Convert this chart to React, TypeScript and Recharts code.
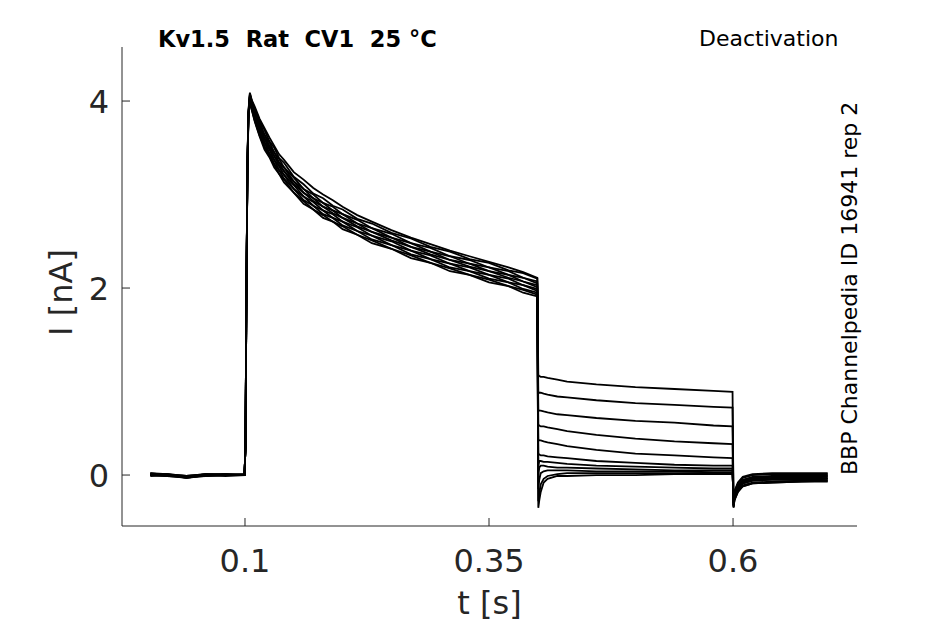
import { LineChart, Line, XAxis, YAxis, Label } from "recharts"

// sample times [s], shared by every sweep
const TIME = [
  0.003, 0.02, 0.04, 0.06, 0.08, 0.0995,
  0.1005, 0.1015, 0.1025, 0.1035, 0.105, 0.107, 0.11, 0.115, 0.12, 0.125, 0.13, 0.135, 0.14, 0.15,
  0.16, 0.17, 0.18, 0.19, 0.2, 0.215, 0.23, 0.25, 0.27, 0.29, 0.31, 0.33, 0.35, 0.37, 0.385, 0.3995,
  0.4005, 0.4015, 0.403, 0.406, 0.41, 0.42, 0.43, 0.46, 0.5, 0.54, 0.58, 0.5995,
  0.6005, 0.6015, 0.605, 0.61, 0.62, 0.64, 0.67, 0.697,
]

// current [nA] per sweep
const SWEEP_01 = [
  0.01, 0.0, -0.01, 0.01, 0.0, 0.0,
  0.3, 2.0, 3.32, 3.88, 4.08, 4.0, 3.92, 3.79, 3.69, 3.57, 3.5, 3.39, 3.34, 3.19,
  3.11, 3.01, 2.96, 2.88, 2.84, 2.74, 2.69, 2.59, 2.53, 2.44, 2.39, 2.31, 2.27, 2.19, 2.16, 2.1,
  1.07, 1.06, 1.05, 1.05, 1.04, 1.02, 1.0, 0.97, 0.94, 0.92, 0.9, 0.89,
  -0.3, -0.22, -0.12, -0.06, -0.03, -0.02, -0.01, 0.0,
]
const SWEEP_02 = [
  0.0, 0.01, -0.02, 0.0, 0.01, 0.0,
  0.3, 2.0, 3.31, 3.87, 4.07, 3.98, 3.89, 3.78, 3.64, 3.56, 3.45, 3.38, 3.29, 3.18,
  3.06, 3.0, 2.91, 2.87, 2.79, 2.73, 2.64, 2.58, 2.48, 2.43, 2.34, 2.3, 2.22, 2.18, 2.11, 2.07,
  0.89, 0.88, 0.88, 0.87, 0.86, 0.84, 0.83, 0.8, 0.77, 0.75, 0.73, 0.72,
  -0.32, -0.23, -0.14, -0.08, -0.05, -0.04, -0.04, -0.03,
]
const SWEEP_03 = [
  0.02, 0.0, -0.03, -0.01, 0.0, 0.01,
  0.3, 2.0, 3.3, 3.86, 4.06, 3.97, 3.88, 3.74, 3.64, 3.52, 3.45, 3.34, 3.29, 3.14,
  3.06, 2.96, 2.91, 2.83, 2.79, 2.69, 2.64, 2.54, 2.48, 2.39, 2.34, 2.26, 2.22, 2.14, 2.11, 2.05,
  0.7, 0.69, 0.69, 0.68, 0.67, 0.65, 0.64, 0.61, 0.58, 0.56, 0.53, 0.52,
  -0.33, -0.24, -0.15, -0.09, -0.06, -0.05, -0.05, -0.04,
]
const SWEEP_04 = [
  0.0, -0.01, -0.02, 0.01, 0.0, 0.0,
  0.3, 2.0, 3.3, 3.85, 4.05, 3.96, 3.86, 3.74, 3.6, 3.52, 3.41, 3.34, 3.25, 3.14,
  3.02, 2.96, 2.87, 2.83, 2.75, 2.69, 2.6, 2.54, 2.44, 2.39, 2.3, 2.26, 2.18, 2.14, 2.07, 2.03,
  0.54, 0.53, 0.52, 0.52, 0.51, 0.49, 0.47, 0.43, 0.39, 0.36, 0.34, 0.33,
  -0.34, -0.26, -0.17, -0.11, -0.08, -0.07, -0.06, -0.06,
]
const SWEEP_05 = [
  0.01, 0.01, -0.03, 0.0, -0.01, 0.0,
  0.3, 2.0, 3.3, 3.85, 4.05, 3.95, 3.86, 3.71, 3.6, 3.49, 3.41, 3.31, 3.25, 3.11,
  3.02, 2.93, 2.87, 2.8, 2.75, 2.66, 2.6, 2.51, 2.44, 2.36, 2.3, 2.23, 2.18, 2.11, 2.07, 2.01,
  0.38, 0.37, 0.37, 0.36, 0.35, 0.33, 0.31, 0.27, 0.23, 0.21, 0.19, 0.18,
  -0.34, -0.26, -0.18, -0.12, -0.09, -0.08, -0.07, -0.07,
]
const SWEEP_06 = [
  -0.01, 0.0, -0.02, 0.01, 0.01, 0.0,
  0.3, 2.0, 3.29, 3.84, 4.04, 3.94, 3.83, 3.7, 3.56, 3.48, 3.37, 3.3, 3.21, 3.1,
  2.98, 2.92, 2.83, 2.79, 2.71, 2.65, 2.56, 2.5, 2.4, 2.35, 2.26, 2.22, 2.14, 2.1, 2.03, 1.99,
  0.22, 0.22, 0.21, 0.21, 0.2, 0.19, 0.18, 0.15, 0.13, 0.11, 0.1, 0.1,
  -0.35, -0.27, -0.18, -0.12, -0.09, -0.08, -0.07, -0.06,
]
const SWEEP_07 = [
  0.0, 0.01, -0.01, 0.0, 0.0, 0.01,
  0.3, 2.0, 3.28, 3.83, 4.03, 3.93, 3.82, 3.67, 3.56, 3.44, 3.37, 3.26, 3.21, 3.06,
  2.98, 2.88, 2.83, 2.75, 2.71, 2.61, 2.56, 2.46, 2.4, 2.31, 2.26, 2.18, 2.14, 2.06, 2.03, 1.97,
  0.1, 0.15, 0.15, 0.14, 0.14, 0.13, 0.12, 0.1, 0.09, 0.08, 0.07, 0.07,
  -0.32, -0.24, -0.15, -0.09, -0.06, -0.05, -0.05, -0.04,
]
const SWEEP_08 = [
  0.01, -0.01, -0.03, 0.0, 0.01, 0.0,
  0.3, 2.0, 3.27, 3.82, 4.02, 3.92, 3.8, 3.66, 3.52, 3.44, 3.33, 3.26, 3.17, 3.06,
  2.94, 2.88, 2.79, 2.75, 2.67, 2.61, 2.52, 2.46, 2.36, 2.31, 2.22, 2.18, 2.1, 2.06, 1.99, 1.95,
  0.0, 0.08, 0.1, 0.1, 0.09, 0.08, 0.08, 0.07, 0.06, 0.05, 0.05, 0.05,
  -0.3, -0.22, -0.13, -0.07, -0.04, -0.03, -0.03, -0.02,
]
const SWEEP_09 = [
  0.0, 0.0, -0.02, -0.01, 0.0, 0.0,
  0.3, 2.0, 3.26, 3.81, 4.01, 3.91, 3.79, 3.63, 3.51, 3.41, 3.32, 3.22, 3.16, 3.02,
  2.93, 2.84, 2.78, 2.71, 2.66, 2.57, 2.51, 2.42, 2.35, 2.27, 2.21, 2.14, 2.09, 2.02, 1.98, 1.93,
  -0.15, -0.05, 0.02, 0.04, 0.05, 0.05, 0.05, 0.04, 0.04, 0.04, 0.03, 0.03,
  -0.28, -0.2, -0.11, -0.05, -0.02, -0.01, -0.01, -0.01,
]
const SWEEP_10 = [
  0.02, 0.01, -0.01, 0.01, 0.0, 0.01,
  0.3, 2.0, 3.26, 3.8, 4.0, 3.9, 3.78, 3.62, 3.48, 3.4, 3.29, 3.22, 3.13, 3.02,
  2.9, 2.84, 2.75, 2.71, 2.63, 2.57, 2.48, 2.42, 2.32, 2.27, 2.18, 2.14, 2.06, 2.02, 1.95, 1.91,
  -0.28, -0.2, -0.1, -0.04, -0.01, 0.01, 0.02, 0.02, 0.02, 0.02, 0.02, 0.02,
  -0.26, -0.18, -0.09, -0.03, 0.0, 0.01, 0.01, 0.01,
]
const SWEEP_11 = [
  0.0, -0.01, -0.02, 0.0, 0.01, 0.0,
  0.3, 2.0, 3.33, 3.89, 4.09, 4.01, 3.94, 3.81, 3.71, 3.61, 3.52, 3.43, 3.37, 3.24,
  3.16, 3.07, 3.0, 2.94, 2.87, 2.78, 2.71, 2.62, 2.54, 2.47, 2.4, 2.34, 2.28, 2.22, 2.17, 2.11,
  -0.35, -0.27, -0.18, -0.08, -0.04, -0.01, -0.01, 0.0, 0.0, 0.01, 0.01, 0.01,
  -0.25, -0.17, -0.08, -0.02, 0.01, 0.02, 0.02, 0.02,
]

const SWEEPS = [
  SWEEP_01, SWEEP_02, SWEEP_03, SWEEP_04, SWEEP_05, SWEEP_06,
  SWEEP_07, SWEEP_08, SWEEP_09, SWEEP_10, SWEEP_11,
]

const X_TICKS = [0.1, 0.35, 0.6]
const Y_TICKS = [0, 2, 4]

const rows = TIME.map((t, i) => {
  const row: Record<string, number> = { t }
  SWEEPS.forEach((s, k) => {
    row[`s${k}`] = s[i]
  })
  return row
})

const INK = "#262626"
const FONT = "'DejaVu Sans', sans-serif"
const X_MARGIN = 46
const Y_MARGIN = 13
const TICK_LEN = 8

function XTick({ x, y, payload }: any) {
  const axisY = y - X_MARGIN
  return (
    <g>
      <line x1={x} x2={x} y1={axisY} y2={axisY - TICK_LEN} stroke={INK} strokeWidth={1} />
      <text x={x} y={y} textAnchor="middle" fontSize={32} fill={INK} fontFamily={FONT}>
        {payload.value}
      </text>
    </g>
  )
}

function YTick({ x, y, payload }: any) {
  const axisX = x + Y_MARGIN
  return (
    <g>
      <line x1={axisX} x2={axisX + TICK_LEN} y1={y} y2={y} stroke={INK} strokeWidth={1} />
      <text x={x} y={y + 12} textAnchor="end" fontSize={32} fill={INK} fontFamily={FONT}>
        {payload.value}
      </text>
    </g>
  )
}

export default function App() {
  return (
    <div style={{ position: "absolute", left: 0, top: 0, width: 945, height: 624, background: "#fff" }}>
      <LineChart
        width={945}
        height={624}
        data={rows}
        margin={{ top: 47, right: 88, bottom: 58, left: 62 }}
      >
        <XAxis
          type="number"
          dataKey="t"
          domain={[-0.026, 0.727]}
          ticks={X_TICKS}
          interval={0}
          allowDataOverflow
          height={40}
          tickSize={0}
          tickMargin={X_MARGIN}
          tickLine={false}
          tick={<XTick />}
          axisLine={{ stroke: INK, strokeWidth: 1 }}
        >
          <Label
            content={({ viewBox }: any) => (
              <text
                x={viewBox.x + viewBox.width / 2}
                y={viewBox.y + 88}
                textAnchor="middle"
                fontSize={32}
                fill={INK}
                fontFamily={FONT}
              >
                t [s]
              </text>
            )}
          />
        </XAxis>
        <YAxis
          type="number"
          domain={[-0.545, 4.578]}
          ticks={Y_TICKS}
          interval={0}
          allowDataOverflow
          width={60}
          tickSize={0}
          tickMargin={Y_MARGIN}
          tickLine={false}
          tick={<YTick />}
          axisLine={{ stroke: INK, strokeWidth: 1 }}
        >
          <Label
            content={({ viewBox }: any) => {
              const cx = 72
              const cy = viewBox.y + viewBox.height / 2 + 6
              return (
                <text
                  x={cx}
                  y={cy}
                  transform={`rotate(-90 ${cx} ${cy})`}
                  textAnchor="middle"
                  fontSize={32}
                  fill={INK}
                  fontFamily={FONT}
                >
                  I [nA]
                </text>
              )
            }}
          />
        </YAxis>
        {SWEEPS.map((_, k) => (
          <Line
            key={k}
            dataKey={`s${k}`}
            type="linear"
            stroke="#000"
            strokeWidth={1.8}
            dot={false}
            activeDot={false}
            isAnimationActive={false}
          />
        ))}
      </LineChart>
      <svg
        width={945}
        height={624}
        style={{ position: "absolute", left: 0, top: 0, pointerEvents: "none" }}
      >
        <text x={158} y={47} fontSize={22.5} fontWeight="bold" fill="#000" fontFamily={FONT} xmlSpace="preserve">
          Kv1.5  Rat  CV1  25 °C
        </text>
        <text x={699} y={46} fontSize={22} fill="#000" fontFamily={FONT}>
          Deactivation
        </text>
        <text
          x={857}
          y={475}
          transform="rotate(-90 857 475)"
          fontSize={22}
          fill="#000"
          fontFamily={FONT}
        >
          BBP Channelpedia ID 16941 rep 2
        </text>
      </svg>
    </div>
  )
}
